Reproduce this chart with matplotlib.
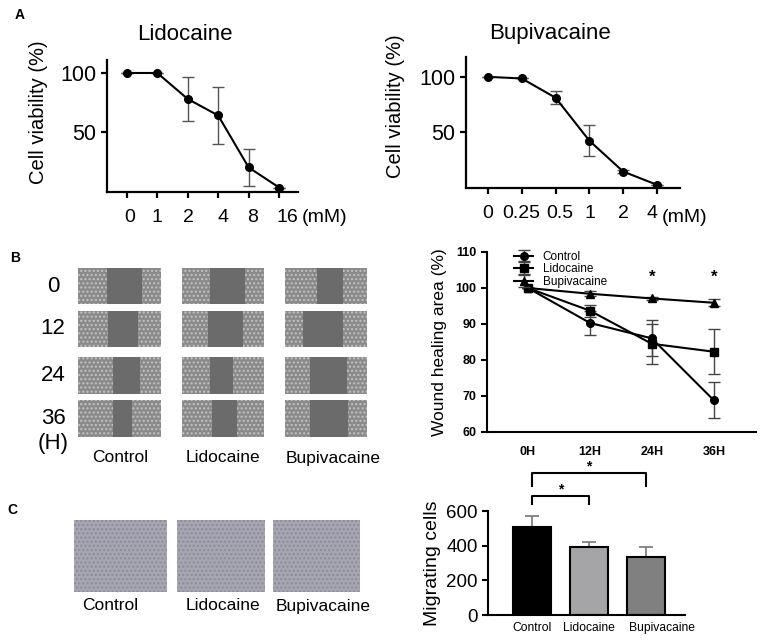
import numpy as np
import matplotlib.pyplot as plt
import matplotlib.transforms as mtransforms
from matplotlib.patches import Rectangle

plt.rcParams['font.family'] = ['Liberation Sans', 'DejaVu Sans']
plt.rcParams['hatch.linewidth'] = 1.0

W, H = 765, 641

# panel A: cell viability
lido_dose = ['0', '1', '2', '4', '8', '16']
lido_via = [100, 100, 78, 64, 20, 3]
lido_err = [0, 0, 19, 24, 16, 0]
bupi_dose = ['0', '0.25', '0.5', '1', '2', '4']
bupi_via = [100, 98.5, 81, 42, 14, 2]
bupi_err = [0, 0, 6, 14, 1.5, 0]

# panel B: wound healing
hours = ['0H', '12H', '24H', '36H']
wound_ctrl = [100, 90.3, 86, 68.8]
wound_ctrl_err = [0, 3.3, 5, 5]
wound_lido = [100, 93.7, 84.5, 82.3]
wound_lido_err = [0, 1.7, 5.5, 6.2]
wound_bupi = [100, 98.4, 97.1, 95.9]
wound_bupi_err = [0, 0.7, 0.5, 1.0]
sig_hours = [2, 3]

row_labels = ['0', '12', '24', '36']
groups = ['Control', 'Lidocaine', 'Bupivacaine']
# scratch gap in each photo (fraction of width), per group then per time
gaps = [[(0.35, 0.77), (0.36, 0.72), (0.42, 0.75), (0.42, 0.65)],
        [(0.34, 0.77), (0.32, 0.74), (0.34, 0.62), (0.37, 0.67)],
        [(0.39, 0.71), (0.22, 0.71), (0.30, 0.76), (0.30, 0.77)]]

# panel C: migration
mig = [505, 390, 336]
mig_err = [68, 30, 56]
bar_colors = ['black', '#a5a5a7', '#808080']

fig = plt.figure(figsize=(W / 100, H / 100), dpi=100)


def px_axes(l, t, r, b):
    return fig.add_axes([l / W, 1 - b / H, (r - l) / W, (b - t) / H])


def ftext(x, y, s, **kw):
    fig.text(x / W, 1 - y / H, s, ha=kw.pop('ha', 'center'), va=kw.pop('va', 'center'), **kw)


def style(ax, lw=1.5):
    for s in ['top', 'right']:
        ax.spines[s].set_visible(False)
    for s in ['left', 'bottom']:
        ax.spines[s].set_linewidth(lw)
    ax.tick_params(width=lw, length=4)


def nudge(labels, shifts):
    # small horizontal shifts of tick labels, in pixels
    for lab, dx in zip(labels, shifts):
        off = mtransforms.ScaledTranslation(dx / 100, 0, fig.dpi_scale_trans)
        lab.set_transform(lab.get_transform() + off)


# ---- A ----
ftext(20, 15, 'A', fontsize=10, fontweight='bold')
for (l, t, r, b), dose, via, err, title, ylo, yhi, xr, tcx, mmx, ylx, yly, shifts in [
        ((107, 60, 298, 192), lido_dose, lido_via, lido_err, 'Lidocaine', -0.8, 111, 5.62,
         185, 325, 38, 112, [3, 0, 1, 5, 4, 8]),
        ((466, 57, 680, 188), bupi_dose, bupi_via, bupi_err, 'Bupivacaine', -0.9, 118, 5.68,
         550, 685, 395, 106, [0, -1, 4, 1, 0, -5])]:
    ax = px_axes(l, t, r, b)
    x = np.arange(len(dose))
    ax.errorbar(x, via, yerr=err, fmt='-o', color='black', ms=5.5, lw=1.5,
                ecolor='#555555', elinewidth=1, capsize=4, capthick=1)
    ax.set_xlim(-0.65, xr)
    ax.set_ylim(ylo, yhi)
    ax.set_xticks(x)
    ax.set_xticklabels(dose)
    ax.set_yticks([50, 100])
    ax.tick_params(axis='x', labelsize=14, pad=8)
    ax.tick_params(axis='y', labelsize=15.5)
    style(ax, 1.6)
    nudge(ax.get_xticklabels(), shifts)
    ftext(tcx, 34, title, fontsize=16)
    ftext(mmx, 217, '(mM)', fontsize=14)
    ftext(ylx, yly, 'Cell viability (%)', fontsize=14.5, rotation=90)

# ---- B photos ----
ftext(15, 258, 'B', fontsize=10, fontweight='bold')
rows = [(268, 304), (311, 347), (357, 394), (400, 437)]
cols = [(78, 161), (182, 264), (285, 367)]
for j, (cl, cr) in enumerate(cols):
    for i, (rt, rb) in enumerate(rows):
        ax = px_axes(cl, rt, cr, rb)
        ax.set_axis_off()
        g0, g1 = gaps[j][i]
        ax.add_patch(Rectangle((0, 0), 1, 1, facecolor='#8a8a8a', edgecolor='#c4c4c4',
                               hatch='....', lw=0))
        ax.add_patch(Rectangle((g0, 0), g1 - g0, 1, facecolor='#6b6b6b', lw=0))
        ax.set_xlim(0, 1)
        ax.set_ylim(0, 1)
for i, lab in enumerate(row_labels):
    ftext(53, (rows[i][0] + rows[i][1]) / 2, lab, fontsize=16)
ftext(53, 443, '(H)', fontsize=16)
for j, lab in enumerate(groups):
    ftext([120, 223, 333][j], [457, 457, 459][j], lab, fontsize=12.5)

# ---- B wound healing chart ----
ax = px_axes(487, 252, 756, 432)
x = np.arange(len(hours))
kw = dict(color='black', lw=1.5, ms=5.5, ecolor='#444444', elinewidth=1, capsize=4, capthick=1)
ax.errorbar(x, wound_ctrl, yerr=wound_ctrl_err, fmt='-o', label='Control', **kw)
ax.errorbar(x, wound_lido, yerr=wound_lido_err, fmt='-s', label='Lidocaine', **kw)
ax.errorbar(x, wound_bupi, yerr=wound_bupi_err, fmt='-^', label='Bupivacaine', **kw)
for h in sig_hours:
    ax.text(h, 103, '*', ha='center', va='center', fontsize=12, fontweight='bold')
ax.set_xlim(-0.66, 3.68)
ax.set_ylim(60, 110)
ax.set_yticks(range(60, 111, 10))
ax.set_xticks(x)
ax.set_xticklabels(hours)
style(ax, 1.5)
ax.tick_params(axis='x', length=0, pad=10)
ax.tick_params(labelsize=9)
for t in ax.get_xticklabels() + ax.get_yticklabels():
    t.set_fontweight('bold')
ax.set_ylabel('Wound healing area (%)', fontsize=12.5, labelpad=6)
ax.legend(loc='upper left', bbox_to_anchor=(0.08, 1.04), frameon=False, fontsize=8.5,
          handlelength=1.6, labelspacing=0.05, borderpad=0, handletextpad=0.8)

# ---- C photos ----
ftext(12, 510, 'C', fontsize=10, fontweight='bold')
ccols = [(74, 167), (177, 265), (273, 360)]
for j, (cl, cr) in enumerate(ccols):
    ax = px_axes(cl, 520, cr, 592)
    ax.set_axis_off()
    ax.add_patch(Rectangle((0, 0), 1, 1, facecolor='#a6a6ae', edgecolor='#8a8aa4',
                           hatch='....', lw=0))
    ax.set_xlim(0, 1)
    ax.set_ylim(0, 1)
for j, lab in enumerate(groups):
    ftext([110, 223, 323][j], 606, lab, fontsize=12.5)

# ---- C bar chart ----
ax = px_axes(488, 511, 685, 615)
x = np.arange(len(mig))
ax.bar(x, mig, width=0.67, color=bar_colors, edgecolor='black', lw=1.5, zorder=2)
ax.errorbar(x, mig, yerr=[np.zeros(3), mig_err], fmt='none', ecolor='#777777',
            elinewidth=1.2, capsize=5, capthick=1.2, zorder=1)
ax.set_xlim(-0.77, 2.68)
ax.set_ylim(0, 600)
ax.set_yticks([0, 200, 400, 600])
ax.set_xticks(x)
ax.set_xticklabels(groups, fontsize=8.7)
ax.tick_params(axis='y', labelsize=13.5)
style(ax, 1.5)
ax.tick_params(axis='x', length=0, pad=5)
nudge(ax.get_xticklabels(), [0, 0, 16])
ax.set_ylabel('Migrating cells', fontsize=14, labelpad=4)
for x1, ytop, ydrop, ystar in [(1, 684, 638, 725), (2, 817, 742, 858)]:
    ax.plot([0, 0, x1, x1], [ydrop, ytop, ytop, ydrop], color='black', lw=1.5, clip_on=False)
    ax.text(x1 / 2, ystar, '*', ha='center', va='center', fontsize=10, fontweight='bold',
            clip_on=False)

fig.savefig('out.png', dpi=100)
